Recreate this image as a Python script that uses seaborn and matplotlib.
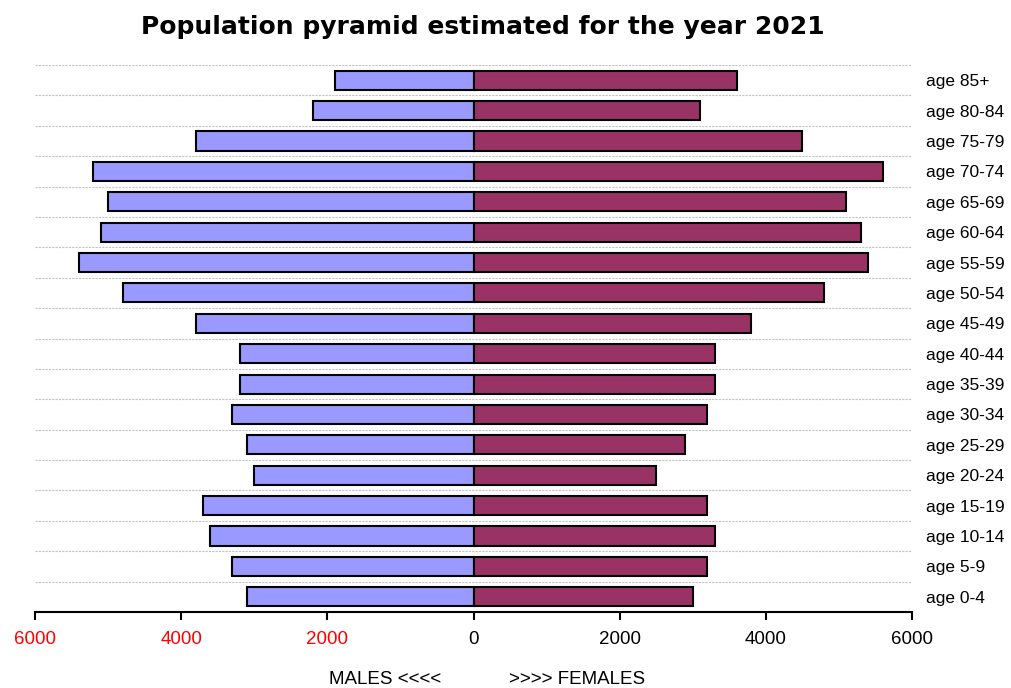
import matplotlib
matplotlib.use("Agg")
import matplotlib.pyplot as plt
import seaborn as sns
import pandas as pd

ages = ["age 85+", "age 80-84", "age 75-79", "age 70-74", "age 65-69", "age 60-64",
        "age 55-59", "age 50-54", "age 45-49", "age 40-44", "age 35-39", "age 30-34",
        "age 25-29", "age 20-24", "age 15-19", "age 10-14", "age 5-9", "age 0-4"]
males = [1900, 2200, 3800, 5200, 5000, 5100, 5400, 4800, 3800, 3200, 3200, 3300,
         3100, 3000, 3700, 3600, 3300, 3100]
females = [3600, 3100, 4500, 5600, 5100, 5300, 5400, 4800, 3800, 3300, 3300, 3200,
           2900, 2500, 3200, 3300, 3200, 3000]
xticks = [-6000, -4000, -2000, 0, 2000, 4000, 6000]
title = "Population pyramid estimated for the year 2021"

sns.set_theme(style="white")
plt.rcParams['font.family'] = ['Liberation Sans', 'DejaVu Sans']
plt.rcParams['text.color'] = 'black'
plt.rcParams['xtick.color'] = 'black'
plt.rcParams['ytick.color'] = 'black'

df_m = pd.DataFrame({"age": ages, "value": [-v for v in males]})
df_f = pd.DataFrame({"age": ages, "value": females})

fig = plt.figure(figsize=(10.11, 6.88), dpi=100)
ax = fig.add_axes([35/1011, 1-612/688, (912-35)/1011, (612-65)/688])

sns.barplot(data=df_m, x="value", y="age", order=ages, orient="h", color="#9999FF",
            saturation=1, width=0.63, edgecolor="black", linewidth=1.5, ax=ax, zorder=3)
sns.barplot(data=df_f, x="value", y="age", order=ages, orient="h", color="#993366",
            saturation=1, width=0.63, edgecolor="black", linewidth=1.5, ax=ax, zorder=3)

ax.set_xlim(-6000, 6000)
ax.set_ylim(len(ages) - 0.5, -0.5)

for k in range(len(ages)):
    ax.axhline(k - 0.5, color="#C4C4C4", linewidth=0.8, linestyle=(0, (2, 1)), zorder=1)

for s in ["left", "right", "top"]:
    ax.spines[s].set_visible(False)
ax.spines["bottom"].set_color("black")
ax.spines["bottom"].set_linewidth(1.5)

ax.set_xticks(xticks)
ax.set_xticklabels([str(abs(v)) for v in xticks], fontsize=13.5)
for v, lab in zip(xticks, ax.get_xticklabels()):
    lab.set_color("red" if v < 0 else "black")
ax.tick_params(axis="x", direction="out", length=6, width=1.5, color="black", bottom=True, pad=8)

ax.yaxis.tick_right()
ax.tick_params(axis="y", length=0, pad=10, labelsize=12.5)
ax.set_ylabel("")
ax.set_xlabel("")

fig.text(483/1011, 1-27/688, title, ha="center", va="center", fontsize=18,
         fontweight="bold", family="DejaVu Sans", color="black")
fig.text(385/1011, 1-680/688, "MALES <<<<", ha="center", va="center", fontsize=13.5)
fig.text(577/1011, 1-680/688, ">>>> FEMALES", ha="center", va="center", fontsize=13.5)

fig.savefig("out.png", dpi=100)
